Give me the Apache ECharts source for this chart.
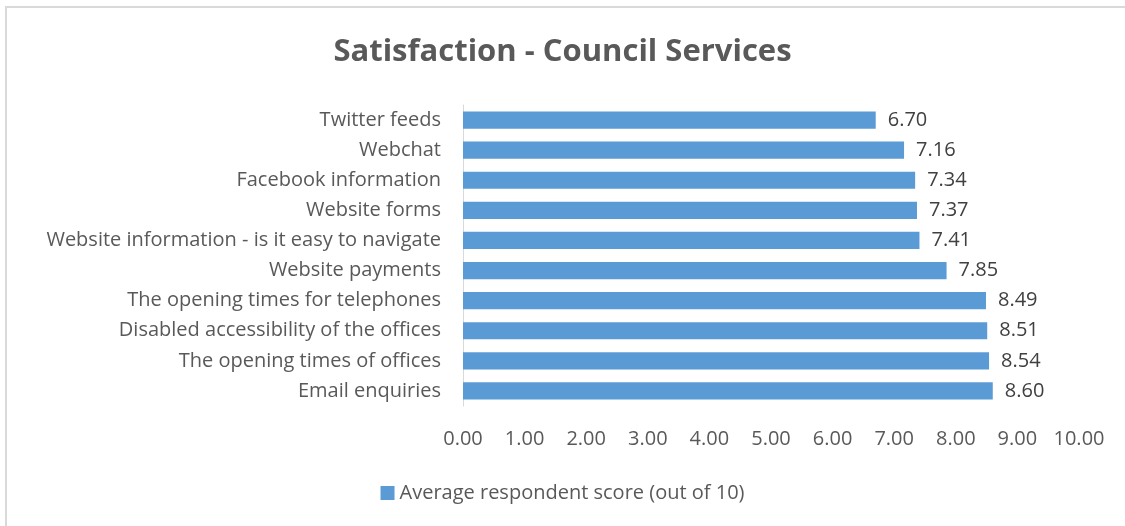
<!DOCTYPE html>
<html>
<head>
<meta charset="utf-8">
<script src="https://cdn.jsdelivr.net/npm/echarts@6/dist/echarts.min.js"></script>
<style>
  html, body { margin: 0; padding: 0; background: #fff; overflow: hidden; }
  #frame { position: absolute; left: 5px; top: 6px; width: 1200px; height: 600px;
           border-top: 2px solid #d9d9d9; border-left: 2px solid #d9d9d9; }
  #chart { position: absolute; left: 0; top: 0; width: 1125px; height: 526px; }
</style>
</head>
<body>
<div id="frame"></div>
<div id="chart"></div>
<script>
// categories listed top to bottom as in the picture
const categories = [
  'Twitter feeds',
  'Webchat',
  'Facebook information',
  'Website forms',
  'Website information - is it easy to navigate',
  'Website payments',
  'The opening times for telephones',
  'Disabled accessibility of the offices',
  'The opening times of offices',
  'Email enquiries'
];
const scores = [6.70, 7.16, 7.34, 7.37, 7.41, 7.85, 8.49, 8.51, 8.54, 8.60];
const seriesName = 'Average respondent score (out of 10)';

const font = '"Open Sans", Lato, sans-serif';
const chart = echarts.init(document.getElementById('chart'));
chart.setOption({
  animation: false,
  textStyle: { fontFamily: font },
  title: {
    text: 'Satisfaction - Council Services',
    left: 'center',
    top: 32,
    textStyle: { fontSize: 31, fontWeight: 'bold', color: '#595959', fontFamily: font }
  },
  legend: {
    bottom: 18,
    left: 'center',
    icon: 'rect',
    itemWidth: 14,
    itemHeight: 14,
    itemGap: 6,
    textStyle: { fontSize: 20, color: '#595959', fontFamily: font },
    data: [seriesName]
  },
  grid: { left: 463, right: 46, top: 105, bottom: 120 },
  xAxis: {
    type: 'value',
    min: 0,
    max: 10,
    interval: 1,
    axisLine: { show: false },
    axisTick: { show: false },
    splitLine: { show: false },
    axisLabel: {
      margin: 23,
      fontSize: 20,
      color: '#595959',
      formatter: v => v.toFixed(2)
    }
  },
  yAxis: {
    type: 'category',
    inverse: true,
    data: categories,
    axisLine: { show: true, lineStyle: { color: '#d9d9d9', width: 1 } },
    axisTick: { show: false },
    axisLabel: { margin: 22, fontSize: 20, color: '#595959', padding: [2, 0, 0, 0] }
  },
  series: [{
    name: seriesName,
    type: 'bar',
    data: scores,
    barCategoryGap: '43%',
    itemStyle: { color: '#5b9bd5' },
    label: {
      show: true,
      position: 'right',
      distance: 12,
      fontSize: 20,
      color: '#404040',
      padding: [2, 0, 0, 0],
      formatter: p => p.value.toFixed(2)
    }
  }]
});
</script>
</body>
</html>
